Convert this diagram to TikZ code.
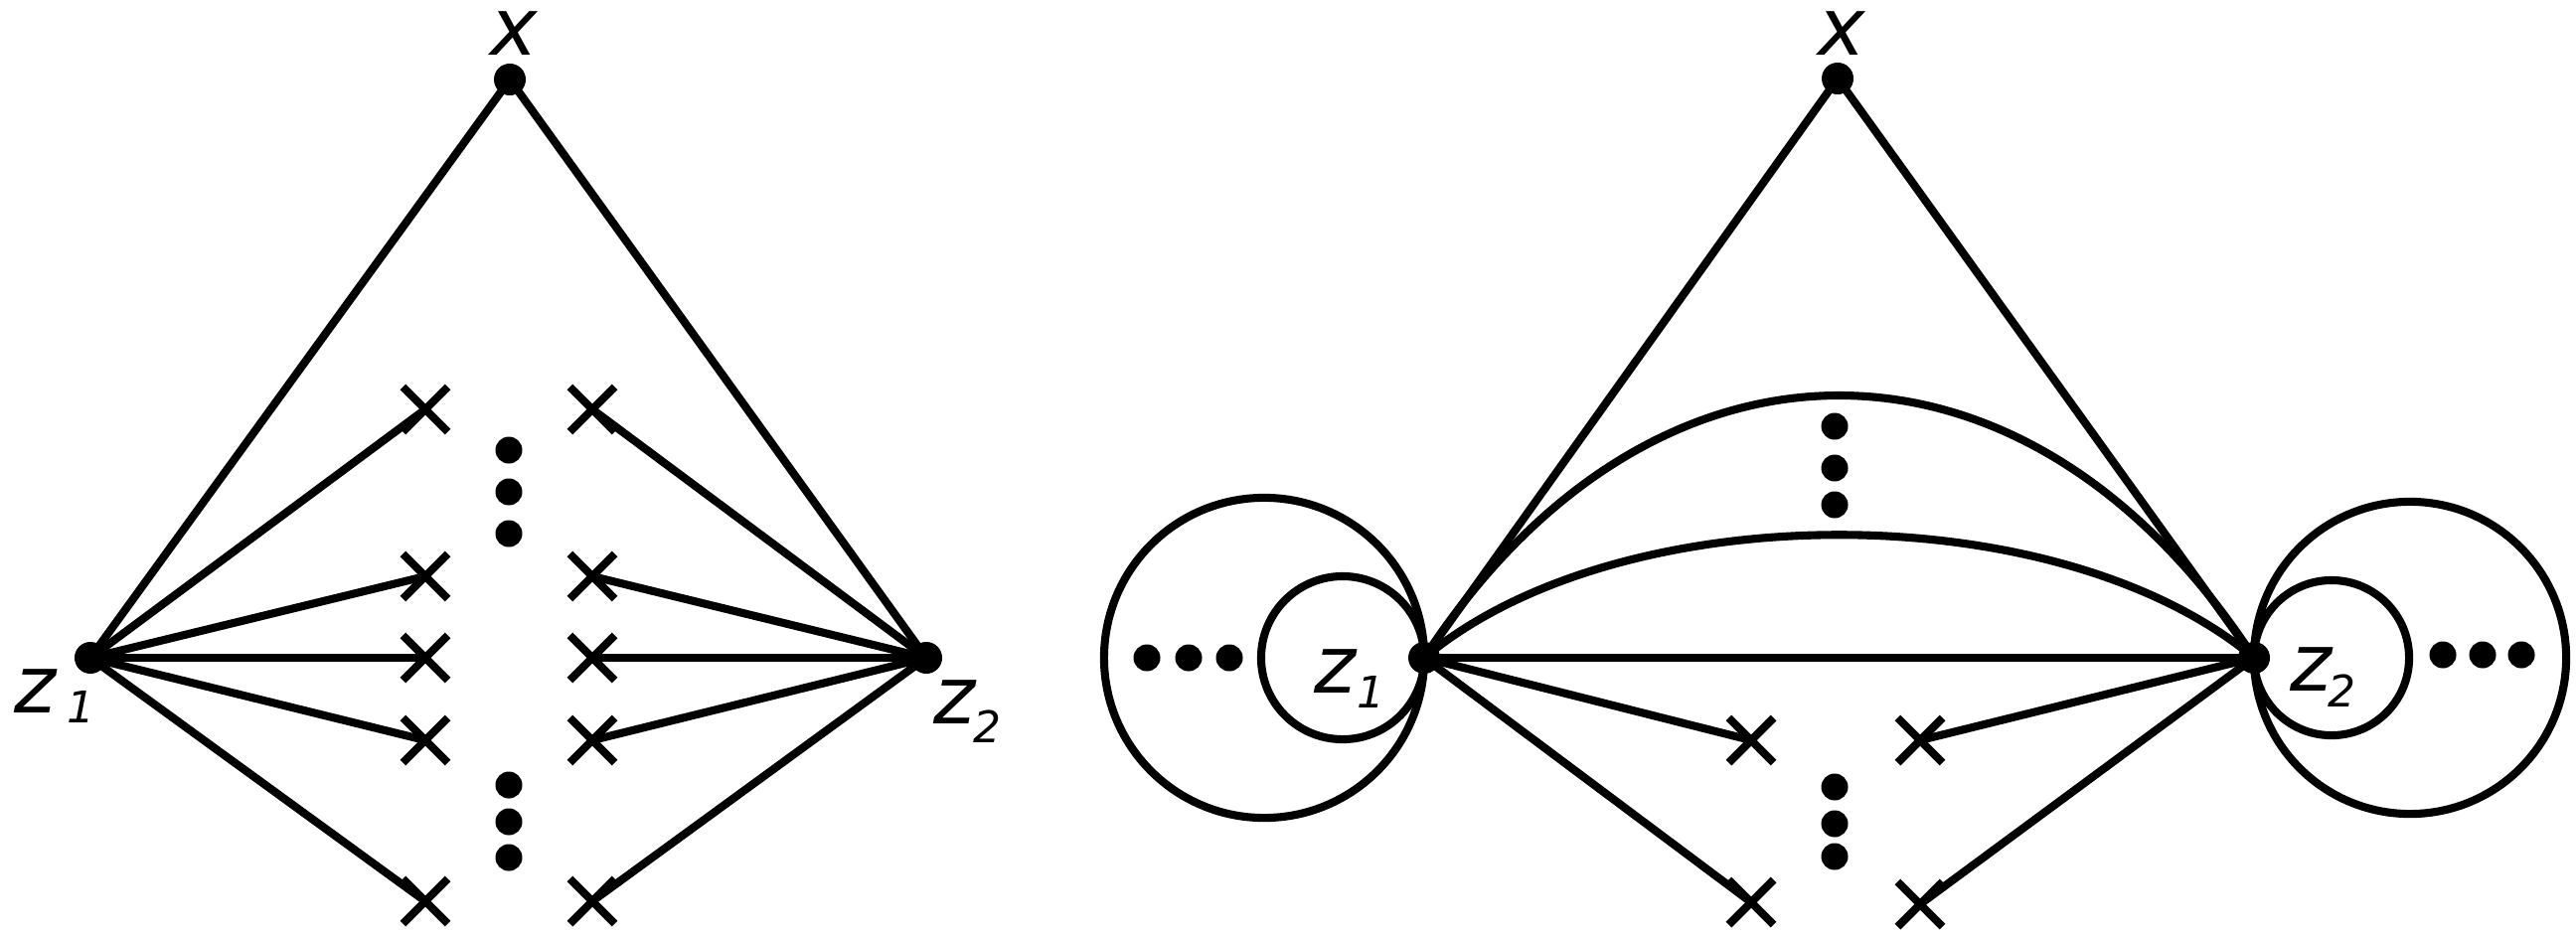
\documentclass[tikz,border=0pt]{standalone}
\usepackage{fontspec}
\setmainfont{DejaVu Sans}
\usetikzlibrary{shapes.misc}
\newcommand{\subsz}{\fontsize{12.5}{13}\selectfont}
\begin{document}
\begin{tikzpicture}[x=0.01cm,y=-0.01cm,line width=2.3pt,
  vert/.style={circle,fill,inner sep=0pt,minimum size=0.32cm},
  sdot/.style={circle,fill,inner sep=0pt,minimum size=0.27cm},
  crossmark/.style={cross out,draw,line width=2.3pt,inner sep=0pt,minimum size=0.37cm},
  lbl/.style={inner sep=0pt,font=\fontsize{22.8}{24}\selectfont\itshape}]
\useasboundingbox (0,0) rectangle (2592,942);
% ---------------- left diagram ----------------
\node[vert] (Lx) at (513,80) {};
\node[vert] (Lz1) at (91,662) {};
\node[vert] (Lz2) at (932,662) {};
\node[crossmark] (La1) at (428,412) {};
\node[crossmark] (La2) at (428,580) {};
\node[crossmark] (La3) at (428,662) {};
\node[crossmark] (La4) at (428,745) {};
\node[crossmark] (La5) at (428,907) {};
\node[crossmark] (Lb1) at (596,412) {};
\node[crossmark] (Lb2) at (596,580) {};
\node[crossmark] (Lb3) at (596,662) {};
\node[crossmark] (Lb4) at (596,745) {};
\node[crossmark] (Lb5) at (596,907) {};
\node[sdot] (Ld1) at (512,453) {};
\node[sdot] (Ld2) at (512,495) {};
\node[sdot] (Ld3) at (512,537) {};
\node[sdot] (Ld4) at (512,790) {};
\node[sdot] (Ld5) at (512,827) {};
\node[sdot] (Ld6) at (512,863) {};
\draw (Lz1.center) -- (Lx.center) -- (Lz2.center);
\foreach \i in {1,...,5}{
  \draw (Lz1.center) -- (La\i.center);
  \draw (Lz2.center) -- (Lb\i.center);
}
\node[lbl,anchor=base] (Lxl) at (517,55) {x};
\node[lbl,anchor=base west] (Lz1l) at (10,717) {z\hspace{3.3pt}\raisebox{-3.1pt}{\subsz 1}};
\node[lbl,anchor=base west] (Lz2l) at (935,728) {z\hspace{-0.5pt}\raisebox{-5.4pt}{\subsz 2}};
% ---------------- right diagram ----------------
\node[vert] (Rx) at (1849,79) {};
\node[vert] (Rz1) at (1433,662) {};
\node[vert] (Rz2) at (2268,662) {};
\coordinate (C1) at (1272,662);
\coordinate (C2) at (1351,662);
\coordinate (C3) at (2346,662);
\coordinate (C4) at (2425,662);
\draw (C1) circle[radius=1.61cm];
\draw (C2) circle[radius=0.82cm];
\draw (C3) circle[radius=0.78cm];
\draw (C4) circle[radius=1.57cm];
\node[sdot] (Re1) at (1154,662) {};
\node[sdot] (Re2) at (1196,662) {};
\node[sdot] (Re3) at (1237,662) {};
\node[sdot] (Rf1) at (2458,659) {};
\node[sdot] (Rf2) at (2498,659) {};
\node[sdot] (Rf3) at (2537,659) {};
\node[sdot] (Rg1) at (1846,429) {};
\node[sdot] (Rg2) at (1846,471) {};
\node[sdot] (Rg3) at (1846,508) {};
\node[sdot] (Rh1) at (1846,792) {};
\node[sdot] (Rh2) at (1846,829) {};
\node[sdot] (Rh3) at (1846,862) {};
\node[crossmark] (Ra1) at (1762,745) {};
\node[crossmark] (Ra2) at (1762,908) {};
\node[crossmark] (Rb1) at (1932,745) {};
\node[crossmark] (Rb2) at (1932,910) {};
\draw (Rz1.center) -- (Rx.center) -- (Rz2.center);
\draw (Rz1.center) -- (Rz2.center);
\draw (Rz1.center) .. controls (1662,310) and (2039,310) .. (Rz2.center);
\draw (Rz1.center) .. controls (1630,497) and (2071,497) .. (Rz2.center);
\draw (Rz1.center) -- (Ra1.center);
\draw (Rz1.center) -- (Ra2.center);
\draw (Rz2.center) -- (Rb1.center);
\draw (Rz2.center) -- (Rb2.center);
\node[lbl,anchor=base] (Rxl) at (1853,55) {x};
\node[lbl,anchor=base west] (Rz1l) at (1318,697) {z\hspace{0.5pt}\raisebox{-4.5pt}{\subsz 1}};
\node[lbl,anchor=base west] (Rz2l) at (2300,695) {z\hspace{-1pt}\raisebox{-4.8pt}{\subsz 2}};
\end{tikzpicture}
\end{document}
